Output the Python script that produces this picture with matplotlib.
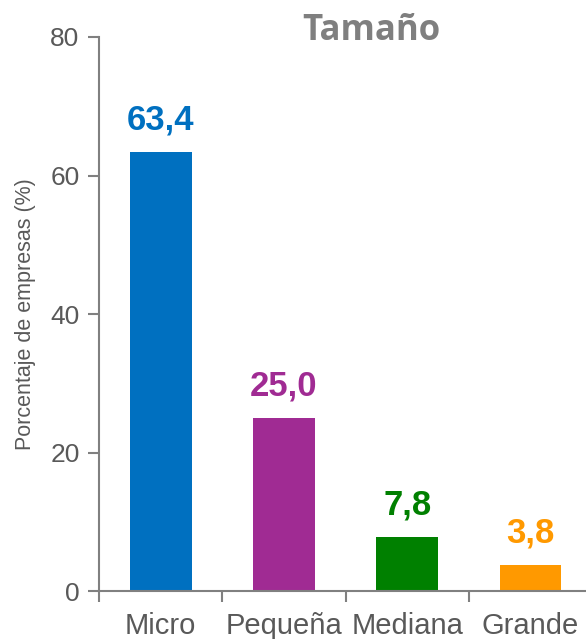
import matplotlib.pyplot as plt
import matplotlib.ticker as ticker

# data
categorias = ["Micro", "Pequeña", "Mediana", "Grande"]
porcentajes = [63.4, 25.0, 7.8, 3.8]
colores = ["#0070C0", "#A02B93", "#008000", "#FF9900"]
etiquetas = ["63,4", "25,0", "7,8", "3,8"]
yticks = [0, 20, 40, 60, 80]

plt.rcParams["font.family"] = ["Liberation Sans", "DejaVu Sans"]

fig = plt.figure(figsize=(5.86, 6.39), dpi=100)
ax = fig.add_axes([0.169, 0.0751, 0.8416, 0.867])

x = list(range(len(categorias)))
ax.bar(x, porcentajes, width=0.5, color=colores)

for xi, v, lab, c in zip(x, porcentajes, etiquetas, colores):
    ax.annotate(lab, (xi, v), xytext=(0, 11), textcoords="offset points",
                ha="center", va="bottom", fontsize=25, fontweight="bold",
                color=c)

ax.set_xlim(-0.5, 3.5)
ax.set_ylim(0, 80)
ax.set_yticks(yticks)
ax.set_xticks(x)
ax.set_xticklabels(categorias)
ax.xaxis.set_minor_locator(ticker.FixedLocator([-0.5, 0.5, 1.5, 2.5]))
ax.tick_params(axis="x", which="major", length=0, pad=15,
               labelsize=21, labelcolor="#595959")
ax.tick_params(axis="x", which="minor", length=8, width=1.5,
               color="#808080", direction="out")
ax.tick_params(axis="y", length=8, width=1.5, color="#808080",
               labelsize=19, labelcolor="#595959", pad=6)

for s in ["top", "right"]:
    ax.spines[s].set_visible(False)
for s in ["left", "bottom"]:
    ax.spines[s].set_color("#808080")
    ax.spines[s].set_linewidth(1.5)

ax.set_ylabel("Porcentaje de empresas (%)", fontsize=15.5, color="#595959",
              labelpad=10)

fig.text(0.633, 0.951, "Tamaño", ha="center", va="center", fontsize=25,
         fontweight="bold", color="#7F7F7F", family=["Open Sans", "DejaVu Sans"])

fig.savefig("out.png", dpi=100)
